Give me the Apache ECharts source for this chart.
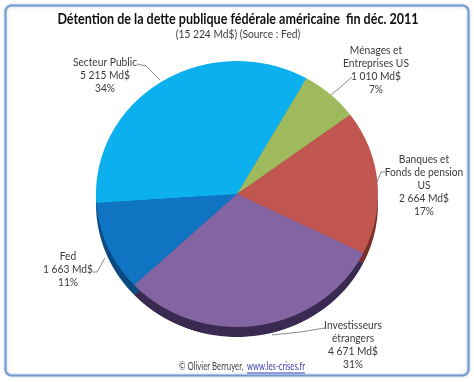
<!DOCTYPE html>
<html>
<head>
<meta charset="utf-8">
<script src="https://cdn.jsdelivr.net/npm/echarts@6/dist/echarts.min.js"></script>
<style>
  html, body { margin: 0; padding: 0; background: #fff; }
  #pie, #overlay { position: absolute; left: 0; top: 0; width: 474px; height: 382px; }
  /* echarts pies are round, the reference is slightly flattened */
  #pie { transform: scaleY(0.943); transform-origin: 237px 194px; }
</style>
</head>
<body>
<div id="pie"></div>
<div id="overlay"></div>
<script>
const titleText = 'Détention de la dette publique fédérale américaine  fin déc. 2011';
const subtitleText = '(15 224 Md$) (Source : Fed)';
const categories = ['Ménages et\nEntreprises US', 'Banques et\nFonds de pension\nUS', 'Investisseurs\nétrangers', 'Fed', 'Secteur Public'];
const values = [1010, 2664, 4671, 1663, 5215];
const valueLabels = ['1 010 Md$', '2 664 Md$', '4 671 Md$', '1 663 Md$', '5 215 Md$'];
const percentLabels = ['7%', '17%', '31%', '11%', '34%'];
const topColors = ['#9FBA5D', '#C15651', '#8465A3', '#0F74C1', '#0DB0EE'];
const rimColors = ['#6B7F3A', '#7C2E2B', '#3A2A52', '#0A4A80', '#0A4A80'];
// label centre x, first line y, leader line points
const labelPos = [[376, 50], [424, 159], [353, 325], [68, 256], [105, 62]];
const leaders = [
  [[352, 77], [344, 84], [331, 95]],
  [[385, 172], [381, 172], [377, 182]],
  [[325, 328], [300, 332], [272, 335]],
  [[93, 272], [97, 272], [105, 258]],
  [[137, 64], [146, 66], [160, 80]]
];

const pieChart = echarts.init(document.getElementById('pie'), null, { devicePixelRatio: 2 });
pieChart.setOption({
  animation: false,
  series: [
    {
      name: 'rim',
      type: 'pie',
      center: [237, 204.6],
      radius: [0, 141],
      startAngle: 60.5,
      silent: true,
      label: { show: false },
      labelLine: { show: false },
      data: categories.map((c, i) => ({ name: c, value: values[i], itemStyle: { color: rimColors[i] } }))
    },
    {
      name: 'Détention',
      type: 'pie',
      center: [237, 194],
      radius: [0, 141],
      startAngle: 60.5,
      label: { show: false },
      labelLine: { show: false },
      data: categories.map((c, i) => ({ name: c, value: values[i], itemStyle: { color: topColors[i] } }))
    }
  ]
});

// the original is in Calibri, Lato squeezed a bit comes closest
function textEl(str, x, y, font, fill, align, sx) {
  return {
    type: 'text', x: x, y: y, scaleX: sx,
    style: { text: str, font: font, fill: fill, align: align, verticalAlign: 'middle' }
  };
}

const labelFont = '11.5px Lato';
const textColor = '#3a3a3a';
const graphics = [
  {
    type: 'rect',
    shape: { x: 5.5, y: 5.5, width: 463, height: 370, r: 6 },
    style: { fill: 'none', stroke: '#7199CF', lineWidth: 2, shadowBlur: 3, shadowColor: 'rgba(90,130,190,0.5)' }
  },
  textEl(titleText, 238, 19, 'bold 14.5px Lato', '#111', 'center', 0.865),
  textEl(subtitleText, 238, 34.5, labelFont, textColor, 'center', 0.89)
];
categories.forEach((c, i) => {
  const lines = c.split('\n').concat(valueLabels[i], percentLabels[i]);
  lines.forEach((line, j) => {
    graphics.push(textEl(line, labelPos[i][0], labelPos[i][1] + j * 13, labelFont, textColor, 'center', 0.89));
  });
  graphics.push({
    type: 'polyline',
    shape: { points: leaders[i] },
    style: { fill: 'none', stroke: '#8a8a8a', lineWidth: 1 }
  });
});
graphics.push(
  textEl('© Olivier Berruyer,', 179, 367, '10.5px Lato', '#444', 'left', 0.74),
  textEl('www.les-crises.fr', 247, 367, '10.5px Lato', '#3B3BB0', 'left', 0.73),
  { type: 'line', shape: { x1: 247, y1: 373, x2: 305, y2: 373 }, style: { stroke: '#3B3BB0', lineWidth: 1 } }
);

const overlay = echarts.init(document.getElementById('overlay'));
overlay.setOption({
  animation: false,
  graphic: graphics
});
</script>
</body>
</html>
